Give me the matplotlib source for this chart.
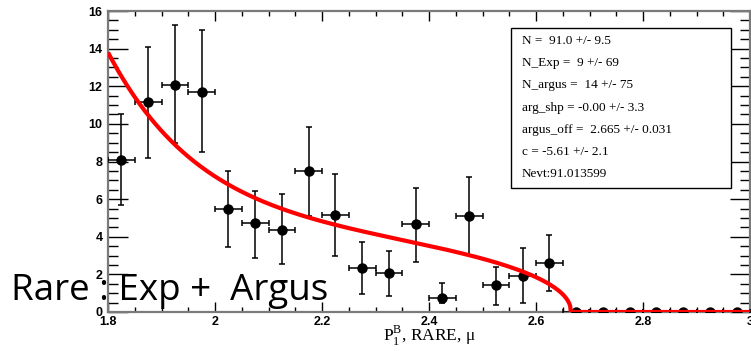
import numpy as np
import matplotlib
matplotlib.use("Agg")
import matplotlib.pyplot as plt
from matplotlib.patches import Rectangle
from matplotlib.ticker import MultipleLocator

# Binned data (bin width 0.05 GeV)
bin_centers = [1.825, 1.875, 1.925, 1.975, 2.025, 2.075, 2.125, 2.175,
               2.225, 2.275, 2.325, 2.375, 2.425, 2.475, 2.525, 2.575,
               2.625, 2.675, 2.725, 2.775, 2.825, 2.875, 2.925, 2.975]
counts = [8.1, 11.15, 12.07, 11.72, 5.49, 4.72, 4.36, 7.48,
          5.13, 2.32, 2.06, 4.66, 0.77, 5.08, 1.44, 1.94,
          2.6, 0, 0, 0, 0, 0, 0, 0]
upper_edge = [10.5, 14.08, 15.27, 15.0, 7.48, 6.45, 6.26, 9.82,
              7.35, 3.74, 3.25, 6.58, 1.56, 7.19, 2.41, 3.41,
              4.1, 0, 0, 0, 0, 0, 0, 0]
lower_edge = [5.69, 8.2, 8.98, 8.53, 3.47, 2.86, 2.54, 5.12,
              2.97, 0.94, 0.85, 2.65, 0.5, 3.03, 0.36, 0.49,
              1.11, 0, 0, 0, 0, 0, 0, 0]
bin_half_width = 0.025

# Fit model: exponential + ARGUS
exp_norm = 9.75
exp_slope = -5.61
argus_norm = 3.05
argus_end = 2.665
argus_shape = 0.0

stats_lines = ["N =  91.0 +/- 9.5",
               "N_Exp =  9 +/- 69",
               "N_argus =  14 +/- 75",
               "arg_shp = -0.00 +/- 3.3",
               "argus_off =  2.665 +/- 0.031",
               "c = -5.61 +/- 2.1",
               "Nevt:91.013599"]

x_ticks = [1.8, 2.0, 2.2, 2.4, 2.6, 2.8, 3.0]
x_ticklabels = ["1.8", "2", "2.2", "2.4", "2.6", "2.8", "3"]
y_ticks = [0, 2, 4, 6, 8, 10, 12, 14, 16]


def fit_curve(x):
    x = np.asarray(x, dtype=float)
    u = 1.0 - (x / argus_end) ** 2
    up = np.clip(u, 0, None)
    argus = np.where(u > 0, x * np.sqrt(up) * np.exp(argus_shape * up), 0.0)
    expo = np.where(x < argus_end, np.exp(exp_slope * (x - 1.8)), 0.0)
    return exp_norm * expo + argus_norm * argus


plt.rcParams["mathtext.fontset"] = "custom"
plt.rcParams["mathtext.rm"] = "Liberation Serif"

fig = plt.figure(figsize=(7.51, 3.51), dpi=100)
ax = fig.add_axes([108 / 751, 39 / 351, 642 / 751, 301 / 351])

c = np.asarray(counts)
yerr = [c - np.asarray(lower_edge), np.asarray(upper_edge) - c]
ax.errorbar(bin_centers, counts, yerr=yerr, xerr=bin_half_width,
            fmt="o", color="black", ms=6.5, elinewidth=1.1,
            capsize=2.2, capthick=1.1, zorder=3)

xs = np.concatenate([np.linspace(1.8, argus_end, 800),
                     [argus_end + 1e-9], np.linspace(argus_end + 0.001, 3.0, 50)])
ax.plot(xs, fit_curve(xs), color="#ff0000", lw=3.0, zorder=4,
        solid_capstyle="butt")

ax.set_xlim(1.8, 3.0)
ax.set_ylim(0, 16)
ax.set_xticks(x_ticks)
ax.set_xticklabels(x_ticklabels)
ax.set_yticks(y_ticks)
ax.xaxis.set_minor_locator(MultipleLocator(0.05))
ax.yaxis.set_minor_locator(MultipleLocator(0.5))

for spine in ax.spines.values():
    spine.set_color("#7a7a7a")
    spine.set_linewidth(1.6)

ax.tick_params(axis="x", which="major", direction="in", length=7, width=1,
               top=True, bottom=True, pad=3)
ax.tick_params(axis="x", which="minor", direction="in", length=3.5, width=1,
               top=True, bottom=True)
ax.tick_params(axis="y", which="major", direction="in", length=14.5, width=1,
               left=True, right=True, pad=4)
ax.tick_params(axis="y", which="minor", direction="in", length=7.2, width=1,
               left=True, right=True)
for lab in ax.get_xticklabels() + ax.get_yticklabels():
    lab.set_fontfamily("Liberation Sans")
    lab.set_fontweight("bold")
    lab.set_fontsize(9)

ax.set_xlabel(r"$\mathrm{P}_{1}^{\mathrm{B}}$, RARE, μ",
              fontfamily="Liberation Serif", fontsize=12.5, va="baseline")
ax.xaxis.set_label_coords(0.5, (312 - 341) / 301)

# Fit parameter box
fig.patches.append(Rectangle((511 / 751, (351 - 188) / 351), 220 / 751, 160 / 351,
                             transform=fig.transFigure, facecolor="white",
                             edgecolor="black", lw=1.0, zorder=5))
for i, line in enumerate(stats_lines):
    yc = 41 + i * 22.2
    fig.text(521.5 / 751, (351 - yc) / 351, line, fontfamily="Liberation Serif",
             fontsize=9.5, va="center", ha="left", zorder=6)

fig.text(11 / 751, (351 - 300) / 351, "Rare : Exp +  Argus",
         fontfamily="Open Sans", fontsize=26.5, va="baseline", ha="left",
         color="black", zorder=10)

fig.savefig("out.png", dpi=100)
